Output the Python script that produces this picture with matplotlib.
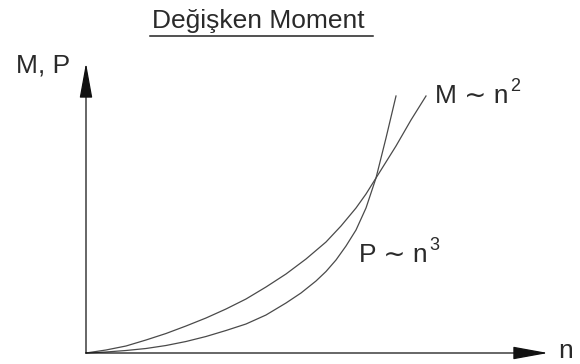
import numpy as np
import matplotlib.pyplot as plt
from matplotlib.lines import Line2D

plt.rcParams['font.family'] = ['Liberation Sans', 'DejaVu Sans']

# Curve readings (n in arbitrary units, value in arbitrary units)
n_m = [0, 20, 40, 60, 80, 100, 120, 140, 160, 180, 200, 220, 240, 255,
       270, 280, 290, 300, 310, 325, 340]
m_vals = [0, 3, 7, 13, 19.5, 27, 35, 44, 54, 66, 79, 94, 111, 127,
          145, 159, 175, 191, 207, 233, 257]

n_p = [0, 20, 40, 60, 80, 100, 120, 140, 160, 180, 200, 215, 230, 240,
       250, 260, 270, 280, 290, 300, 310]
p_vals = [0, 1, 2.5, 4.5, 7.5, 11.5, 16.5, 22.5, 29, 38, 50, 60, 72, 81.5,
          93, 107, 123, 145, 175, 215, 257]

title = 'Değişken Moment'
y_label = 'M, P'
x_label = 'n'
m_label = ('M \u223c n', '2')
p_label = ('P \u223c n', '3')

W, H = 580, 364
fig = plt.figure(figsize=(W / 100, H / 100), dpi=100)

def fpos(x, y):
    # pixel position -> figure fraction
    return x / W, 1 - y / H

# axes: origin at (86, 353) px, x arrow tip at 548, y arrow tip at 63
ax = fig.add_axes([86 / W, 11 / H, 462 / W, 290 / H])
ax.set_xlim(0, 462)
ax.set_ylim(0, 290)
ax.axis('off')

line_col = '#4a4a4a'
txt_col = '#2a2a2a'

ax.plot(n_m, m_vals, color=line_col, lw=0.9, clip_on=False)
ax.plot(n_p, p_vals, color=line_col, lw=0.9, clip_on=False)

# axis arrows
arrow = dict(arrowstyle='-|>,head_length=22,head_width=4', mutation_scale=1,
             color='#111111', lw=0.9, shrinkA=0, shrinkB=0)
ax.annotate('', xy=(462, 0), xytext=(0, 0), arrowprops=arrow, annotation_clip=False)
ax.annotate('', xy=(0, 290), xytext=(0, 0), arrowprops=arrow, annotation_clip=False)

fs = 19
fig.text(*fpos(152, 28), title, fontsize=fs, color=txt_col, va='baseline', ha='left')
fig.add_artist(Line2D([150 / W, 373 / W], [1 - 36 / H] * 2, color='#222222', lw=1.1))

fig.text(*fpos(16, 72), y_label, fontsize=fs, color=txt_col, va='baseline', ha='left')
fig.text(*fpos(558, 358), x_label, fontsize=fs, color=txt_col, va='baseline', ha='left')

# curve labels with superscript exponents placed after the main text
for (main, sup), (x0, y0) in [(m_label, (435, 103)), (p_label, (359, 262))]:
    t = fig.text(*fpos(x0, y0), main, fontsize=fs, color=txt_col, va='baseline', ha='left')
    ax.annotate(sup, xy=(1, 1), xycoords=t, xytext=(1, 4), textcoords='offset points',
                fontsize=13, color=txt_col, va='top', ha='left', annotation_clip=False)

fig.savefig('out.png', dpi=100)
